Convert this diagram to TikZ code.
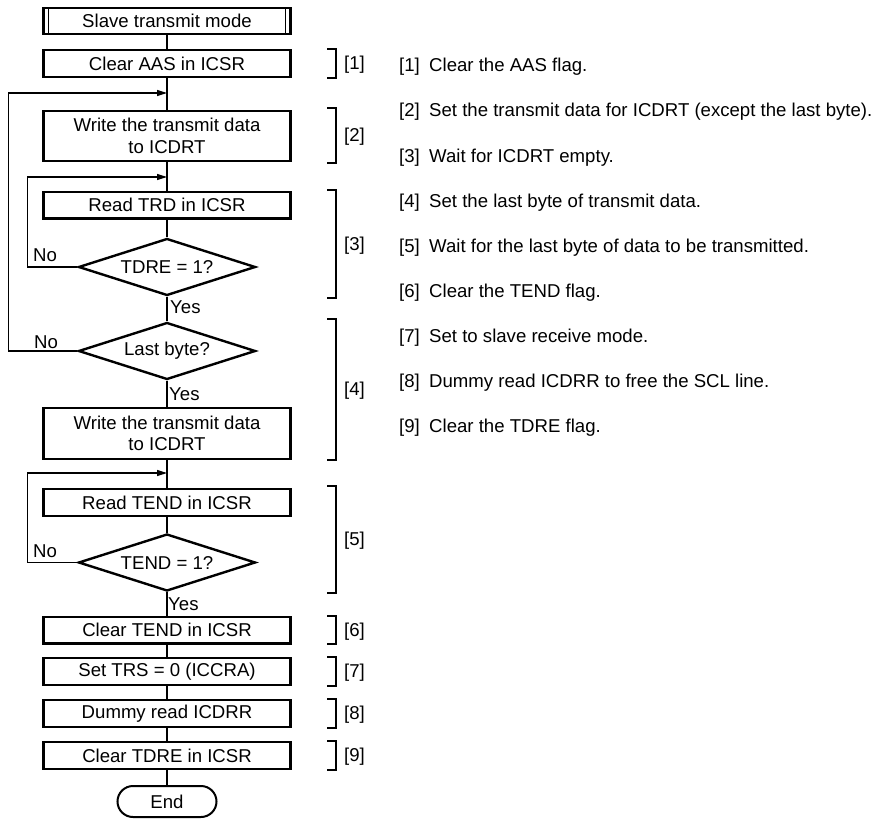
\documentclass[tikz,border=0pt]{standalone}
\usepackage{fontspec}
\setmainfont{Liberation Sans}
\usetikzlibrary{arrows.meta,shapes.geometric}

\begin{document}
\begin{tikzpicture}[x=1pt,y=1pt,>=Latex,font=\fontsize{18.6}{21.5}\selectfont,
 block/.style={draw,line width=2.4pt,minimum width=247pt,minimum height=26.6pt,inner sep=0pt,align=center},
 dec/.style={draw,diamond,aspect=3,line width=2.4pt,minimum width=177pt,minimum height=57pt,inner sep=0pt},
 term/.style={draw,line width=2pt,rounded corners=15.5pt,minimum width=99pt,minimum height=31pt,inner sep=0pt},
 lbl/.style={inner sep=0pt},
 conn/.style={line width=1.2pt},
 arr/.style={conn,-{Triangle[length=10pt,width=6pt]}}]
\useasboundingbox (0,0) rectangle (878,-819);
% flow
\node[block,minimum height=25.6pt] (sbox) at (167,-21) {Slave transmit mode};
\draw[conn] ([xshift=6pt]sbox.north west)--([xshift=6pt]sbox.south west);
\draw[conn] ([xshift=-6pt]sbox.north east)--([xshift=-6pt]sbox.south east);
\node[block] (aas) at (167,-63.5) {Clear AAS in ICSR};
\node[block,minimum height=50pt] (wr1) at (167,-136) {Write the transmit data\\to ICDRT};
\node[block] (trd) at (167,-205) {Read TRD in ICSR};
\node[dec] (tdre) at (167,-267) {TDRE = 1?};
\node[dec] (last) at (167,-351) {Last byte?};
\node[block,minimum height=50.5pt] (wr2) at (167,-433.5) {Write the transmit data\\to ICDRT};
\node[block] (rtend) at (167,-502.5) {Read TEND in ICSR};
\node[dec] (tendq) at (167,-562.5) {TEND = 1?};
\node[block] (ctend) at (167,-630) {Clear TEND in ICSR};
\node[block] (trs) at (167,-671.5) {Set TRS = 0 (ICCRA)};
\node[block] (dummy) at (167,-713.5) {Dummy read ICDRR};
\node[block] (ctdre) at (167,-755.5) {Clear TDRE in ICSR};
\node[term] (stop) at (167,-801.5) {End};
\foreach \a/\b in {sbox/aas,aas/wr1,wr1/trd,trd/tdre,tdre/last,last/wr2,wr2/rtend,rtend/tendq,tendq/ctend,ctend/trs,trs/dummy,dummy/ctdre,ctdre/stop}{\draw[conn] (\a)--(\b);}
% loops
\coordinate (j1) at (167,-93);
\coordinate (j2) at (167,-177);
\coordinate (j3) at (167,-473);
\draw[arr] (last.west)--++(-69,0)|-(j1);
\draw[arr] (tdre.west)--++(-50,0)|-(j2);
\draw[arr] (tendq.west)--++(-50,0)|-(j3);
\node[lbl] (no1) at (45,-255) {No};
\node[lbl] (no2) at (46,-342) {No};
\node[lbl] (no3) at (45,-551) {No};
\node[lbl,anchor=west] (yes1) at (170,-307) {Yes};
\node[lbl,anchor=west] (yes2) at (169,-394) {Yes};
\node[lbl,anchor=west] (yes3) at (168,-604) {Yes};
% brackets
\foreach \t/\b/\n in {49/78/1,108/163/2,190/298/3,319/460/4,486/593/5,616/644/6,657/686/7,699/728/8,741/770/9}{
 \draw[conn] (327,-\t)--(336,-\t)--(336,-\b)--(327,-\b);
 \node[lbl,anchor=west] (br\n) at (344,{-(\t+\b)/2-1.5}) {[\n]};
}
% notes
\foreach \n/\t in {1/Clear the AAS flag.,2/Set the transmit data for ICDRT (except the last byte).,3/Wait for ICDRT empty.,4/Set the last byte of transmit data.,5/Wait for the last byte of data to be transmitted.,6/Clear the TEND flag.,7/Set to slave receive mode.,8/Dummy read ICDRR to free the SCL line.,9/Clear the TDRE flag.}{
 \node[lbl,anchor=west] (d\n) at (399,{-67-45.1*(\n-1)}) {\makebox[30pt][l]{[\n]}\t};
}
\end{tikzpicture}
\end{document}
